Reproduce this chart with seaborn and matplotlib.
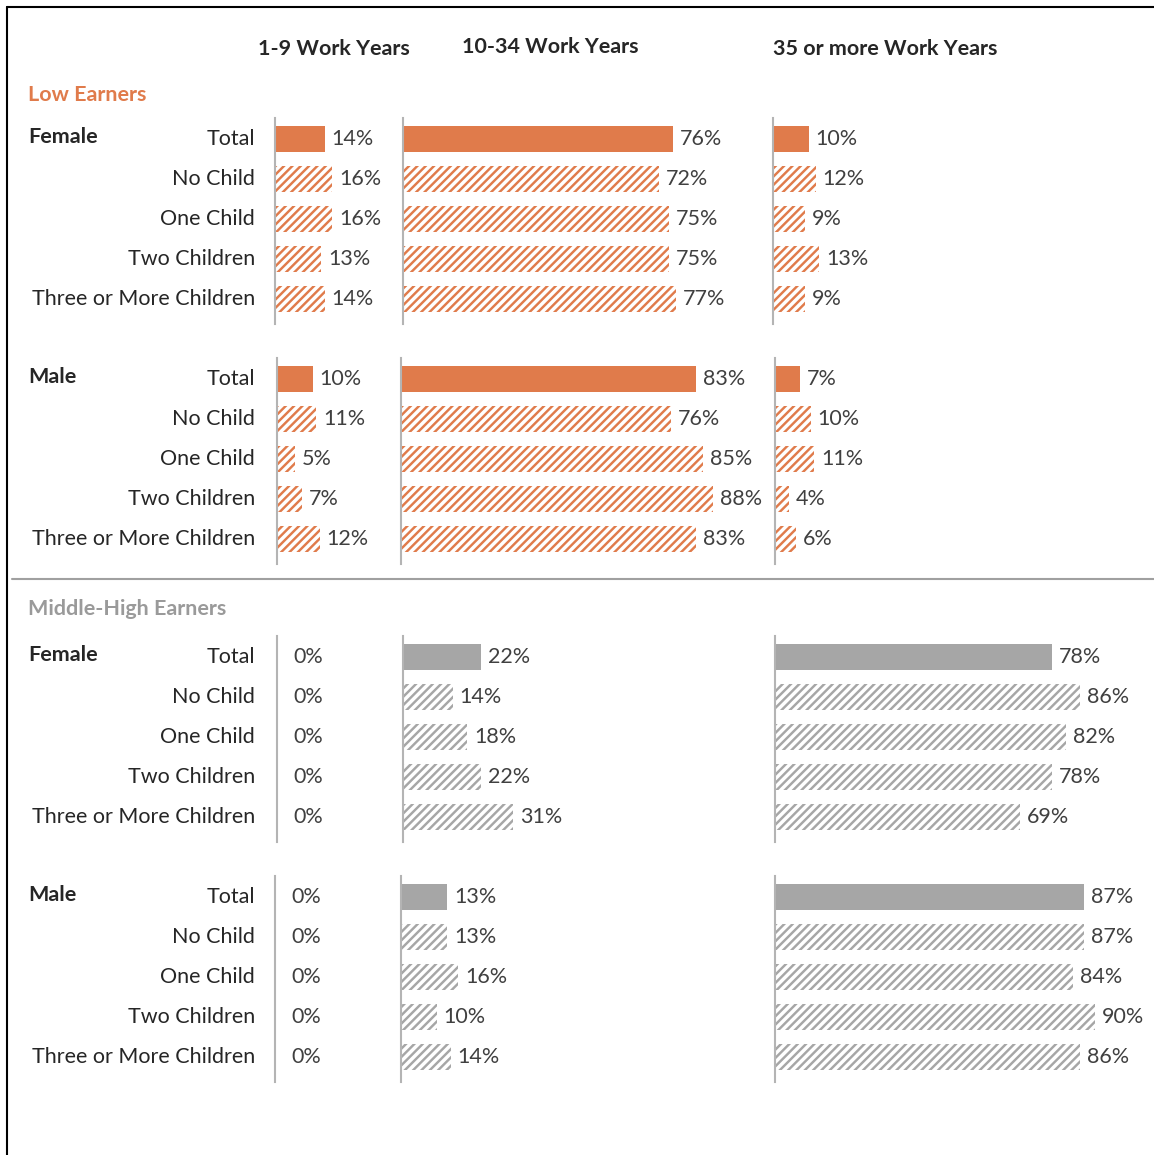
import matplotlib
matplotlib.use("Agg")
import matplotlib.pyplot as plt
import seaborn as sns

# ---- data -------------------------------------------------------------
categories = ["Total", "No Child", "One Child", "Two Children", "Three or More Children"]
columns = ["1-9 Work Years", "10-34 Work Years", "35 or more Work Years"]

low_female_1_9 = [14, 16, 16, 13, 14]
low_female_10_34 = [76, 72, 75, 75, 77]
low_female_35 = [10, 12, 9, 13, 9]

low_male_1_9 = [10, 11, 5, 7, 12]
low_male_10_34 = [83, 76, 85, 88, 83]
low_male_35 = [7, 10, 11, 4, 6]

mh_female_1_9 = [0, 0, 0, 0, 0]
mh_female_10_34 = [22, 14, 18, 22, 31]
mh_female_35 = [78, 86, 82, 78, 69]

mh_male_1_9 = [0, 0, 0, 0, 0]
mh_male_10_34 = [13, 13, 16, 10, 14]
mh_male_35 = [87, 87, 84, 90, 86]

# ---- styling ----------------------------------------------------------
W, H = 1154, 1155
DPI = 125
ORANGE = "#E07B4B"
GREY = "#A6A6A6"
TEXT = "#262626"
VALUE_TEXT = "#404040"
AXIS_LINE = "#B4B4B4"

sns.set_theme(style="white")
plt.rcParams["font.family"] = ["Lato", "DejaVu Sans"]
plt.rcParams["hatch.linewidth"] = 1.4


def pt(px):
    return px * 72.0 / DPI


def fx(x):
    return x / W


def fy(y):
    return 1 - y / H


PX_PER_PCT = 3.55
ROW_STEP = 40.0
col_widths = [112, 362, 372]

blocks = [
    dict(title=("Low Earners", ORANGE, 95), gender="Female", color=ORANGE, top=139,
         x0=[275, 403, 773], data=[low_female_1_9, low_female_10_34, low_female_35]),
    dict(title=None, gender="Male", color=ORANGE, top=379,
         x0=[277, 401, 775], data=[low_male_1_9, low_male_10_34, low_male_35]),
    dict(title=("Middle-High Earners", "#9A9A9A", 609), gender="Female", color=GREY, top=657,
         x0=[277, 403, 775], data=[mh_female_1_9, mh_female_10_34, mh_female_35]),
    dict(title=None, gender="Male", color=GREY, top=897,
         x0=[275, 401, 775], data=[mh_male_1_9, mh_male_10_34, mh_male_35]),
]

fig = plt.figure(figsize=(W / DPI, H / DPI), dpi=DPI)
fig.patch.set_facecolor("white")

LABEL_FS = pt(21.5)
y_lo, y_hi = -0.525, 4.625

for blk in blocks:
    c0 = blk["top"]
    ax_top = c0 + y_lo * ROW_STEP
    ax_h = (y_hi - y_lo) * ROW_STEP
    for j, values in enumerate(blk["data"]):
        x0 = blk["x0"][j]
        w = col_widths[j]
        ax = fig.add_axes([fx(x0), fy(ax_top + ax_h), w / W, ax_h / H])
        sns.barplot(x=values, y=categories, orient="h", ax=ax, color=blk["color"],
                    width=0.63, saturation=1, order=categories)
        for i, patch in enumerate(ax.patches):
            patch.set_linewidth(0)
            if i > 0:
                patch.set_facecolor("white")
                patch.set_edgecolor(blk["color"])
                patch.set_hatch("/////")
        ax.set_xlim(0, w / PX_PER_PCT)
        ax.set_ylim(y_hi, y_lo)
        ax.set_xticks([])
        ax.set_yticks([])
        ax.set_xlabel("")
        ax.set_ylabel("")
        ax.patch.set_alpha(0)
        for s in ["top", "right", "bottom"]:
            ax.spines[s].set_visible(False)
        ax.spines["left"].set_color(AXIS_LINE)
        ax.spines["left"].set_linewidth(1.2)
        for i, v in enumerate(values):
            pad = (16 if v == 0 else 7) / PX_PER_PCT
            ax.text(v + pad, i, f"{v}%", ha="left", va="center",
                    fontsize=LABEL_FS, color=VALUE_TEXT, clip_on=False)

    # row labels
    for i, cat in enumerate(categories):
        fig.text(fx(255), fy(c0 + i * ROW_STEP), cat, ha="right", va="center",
                 fontsize=LABEL_FS, color=TEXT)
    fig.text(fx(28), fy(c0 - 2), blk["gender"], ha="left", va="center",
             fontsize=LABEL_FS, color=TEXT, fontweight="bold")
    if blk["title"]:
        name, col, ty = blk["title"]
        fig.text(fx(28), fy(ty), name, ha="left", va="center",
                 fontsize=LABEL_FS, color=col, fontweight="bold")

# column headers
for name, cx, cy in zip(columns, [334, 550, 885], [49, 47, 49]):
    fig.text(fx(cx), fy(cy), name, ha="center", va="center",
             fontsize=LABEL_FS, color=TEXT, fontweight="bold")

# separator between earner groups and frame edges
fig.add_artist(plt.Line2D([fx(12), fx(1154)], [fy(579), fy(579)],
                          color="#A0A0A0", linewidth=1.2))
fig.add_artist(plt.Line2D([fx(7), fx(1154)], [fy(7), fy(7)], color="black", linewidth=1.2))
fig.add_artist(plt.Line2D([fx(7), fx(7)], [fy(7), fy(1155)], color="black", linewidth=1.2))

fig.savefig("out.png", dpi=DPI, facecolor="white")
